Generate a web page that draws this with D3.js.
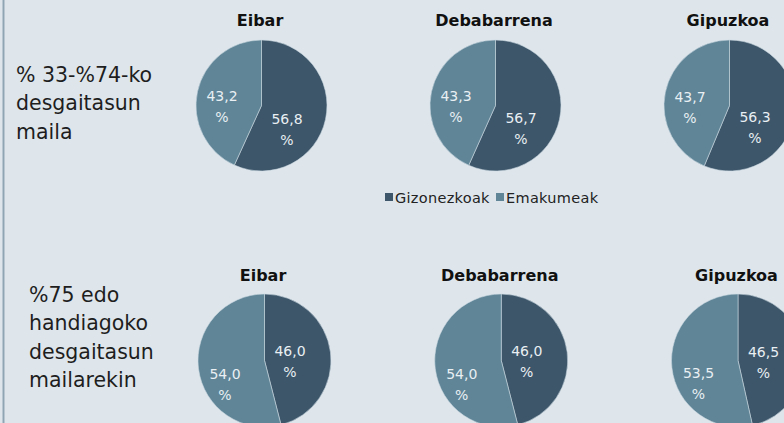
<!DOCTYPE html>
<html>
<head>
<meta charset="utf-8">
<script src="https://cdn.jsdelivr.net/npm/d3@7"></script>
<style>
  html, body { margin: 0; padding: 0; background: #dee6ec; }
  svg { display: block; }
</style>
</head>
<body>
<svg id="chart" width="784" height="423"></svg>
<script>
// Data: share of men / women by disability level and area
const areas = ["Eibar", "Debabarrena", "Gipuzkoa"];
const series = ["Gizonezkoak", "Emakumeak"];
const rowLabels = [
  ["% 33-%74-ko", "desgaitasun", "maila"],
  ["%75 edo", "handiagoko", "desgaitasun", "mailarekin"]
];
const menRow1 = [56.8, 56.7, 56.3];
const womenRow1 = [43.2, 43.3, 43.7];
const menRow2 = [46.0, 46.0, 46.5];
const womenRow2 = [54.0, 54.0, 53.5];

const colors = { Gizonezkoak: "#3d566a", Emakumeak: "#5f8597" };
const W = 784, H = 423;
const svg = d3.select("#chart");

// left frame line
svg.append("rect").attr("x", 2.5).attr("y", 0).attr("width", 2).attr("height", H).attr("fill", "#90a5b4");

const fmt = v => d3.format(".1f")(v).replace(".", ",");

const rows = [
  { men: menRow1, women: womenRow1, cy: 105.5, r: 65.5, x: d3.scaleLinear().domain([0, 2]).range([261.5, 729.5]),
    titleY: 26, labels: rowLabels[0], labelX: 16, labelY0: 82 },
  { men: menRow2, women: womenRow2, cy: 360.5, r: 66.5, x: d3.scaleLinear().domain([0, 2]).range([264.5, 738]),
    titleY: 281, labels: rowLabels[1], labelX: 29, labelY0: 302 }
];

const pie = d3.pie().sort(null).value(d => d.value);

rows.forEach(row => {
  // row heading
  const t = svg.append("text")
    .attr("font-family", "DejaVu Sans, sans-serif")
    .attr("font-size", 20.5)
    .attr("fill", "#1e1e1e");
  row.labels.forEach((line, i) => {
    t.append("tspan").attr("x", row.labelX).attr("y", row.labelY0 + i * 28.3).text(line);
  });

  areas.forEach((area, i) => {
    const cx = row.x(i);
    const g = svg.append("g").attr("transform", `translate(${cx},${row.cy})`);
    const data = [
      { key: "Gizonezkoak", value: row.men[i] },
      { key: "Emakumeak", value: row.women[i] }
    ];
    const arcs = pie(data);
    const arc = d3.arc().innerRadius(0).outerRadius(row.r);

    g.selectAll("path").data(arcs).enter().append("path")
      .attr("d", arc)
      .attr("fill", d => colors[d.data.key])
      .attr("stroke", "#c9d6df")
      .attr("stroke-width", 0.6);

    // slice value labels, two lines: value and percent sign
    arcs.forEach(a => {
      const mid = (a.startAngle + a.endAngle) / 2;
      const right = Math.sin(mid) > 0;
      const lx = right ? 25.5 : -39.5;
      const ly = (right ? 9 : 15) + 68 * (-Math.cos(mid));
      const lt = g.append("text")
        .attr("text-anchor", "middle")
        .attr("font-family", "DejaVu Sans, sans-serif")
        .attr("font-size", 14)
        .attr("fill", "#e9eff3");
      lt.append("tspan").attr("x", lx).attr("y", ly - 5.4).text(fmt(a.data.value));
      lt.append("tspan").attr("x", lx).attr("y", ly + 15.6).text("%");
    });

    svg.append("text")
      .attr("x", cx - 1.5)
      .attr("y", row.titleY)
      .attr("text-anchor", "middle")
      .attr("font-family", "DejaVu Sans, sans-serif")
      .attr("font-weight", "bold")
      .attr("font-size", 16)
      .attr("fill", "#111")
      .text(area);
  });
});

// legend
const legendItems = [
  { key: series[0], x: 385, tx: 395 },
  { key: series[1], x: 496, tx: 506 }
];
const lg = svg.append("g");
legendItems.forEach(d => {
  lg.append("rect").attr("x", d.x).attr("y", 193).attr("width", 8).attr("height", 8).attr("fill", colors[d.key]);
  lg.append("text").attr("x", d.tx).attr("y", 202.5)
    .attr("font-family", "DejaVu Sans, sans-serif")
    .attr("font-size", 14.5)
    .attr("letter-spacing", 0.3)
    .attr("fill", "#222")
    .text(d.key);
});
</script>
</body>
</html>
